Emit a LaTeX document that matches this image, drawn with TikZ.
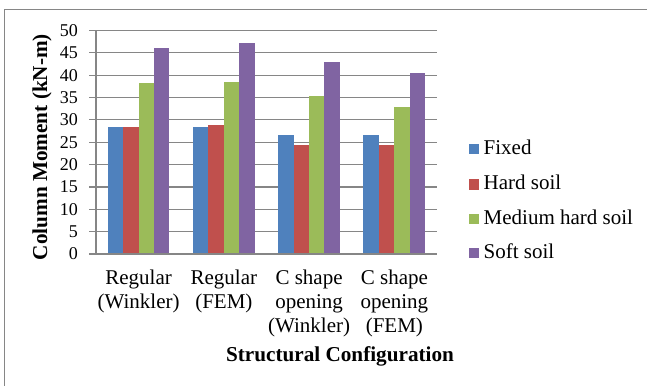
\documentclass[tikz,border=0pt]{standalone}
\usepackage{fontspec}
\setmainfont{Liberation Serif}
\definecolor{cFixed}{HTML}{4F81BD}
\definecolor{cHard}{HTML}{C0504D}
\definecolor{cMed}{HTML}{9BBB59}
\definecolor{cSoft}{HTML}{8064A2}
\definecolor{gridc}{HTML}{868686}
\tikzset{
  gridline/.style={draw=gridc, line width=1.2pt},
  frameline/.style={draw=gridc, line width=1.4pt},
  ticklab/.style={anchor=east, inner sep=0pt, font=\fontsize{18}{20}\selectfont},
  catlab/.style={anchor=north, inner sep=0pt, align=center, font=\fontsize{21}{24}\selectfont},
  leglab/.style={anchor=base west, inner sep=0pt, font=\fontsize{21}{24}\selectfont},
  axtitle/.style={inner sep=0pt, font=\fontsize{21.2}{24}\selectfont\bfseries},
  legsq/.style={minimum size=10.5pt, inner sep=0pt, anchor=south west},
}
\begin{document}
\begin{tikzpicture}[x=1pt, y=-1pt]
\useasboundingbox (0,0) rectangle (647,385);
\fill[white] (0,0) rectangle (647,385);
% outer chart border (cropped)
\draw[frameline] (4.5,390) -- (4.5,9.5) -- (650,9.5);
% gridlines and ticks
\foreach \v in {0,5,...,50}{
  \pgfmathsetmacro{\yy}{254-\v*4.472}
  \draw[gridline] (89,\yy) -- (437,\yy);
  \node[ticklab] (t\v) at (78,\yy) {\v};
}
\draw[gridline] (96,30.4) -- (96,254);
% bars
\def\bw{15.4}
\foreach \g/\a/\b/\c/\d in {0/28.5/28.5/38.2/46.1, 1/28.5/28.8/38.4/47.2, 2/26.5/24.4/35.3/42.9, 3/26.5/24.4/32.8/40.4}{
  \pgfmathsetmacro{\xs}{96+\g*85.25+11.7}
  \fill[cFixed] (\xs,254) rectangle ({\xs+\bw},{254-\a*4.472});
  \fill[cHard] ({\xs+\bw},254) rectangle ({\xs+2*\bw},{254-\b*4.472});
  \fill[cMed] ({\xs+2*\bw},254) rectangle ({\xs+3*\bw},{254-\c*4.472});
  \fill[cSoft] ({\xs+3*\bw},254) rectangle ({\xs+4*\bw},{254-\d*4.472});
}
\draw[gridline] (96,254) -- (437,254);
% category labels
\node[catlab] (c1) at (138.6,270) {Regular\\(Winkler)};
\node[catlab] (c2) at (223.9,270) {Regular\\(FEM)};
\node[catlab] (c3) at (309.1,270) {C shape\\opening\\(Winkler)};
\node[catlab] (c4) at (394.4,270) {C shape\\opening\\(FEM)};
% axis titles
\node[axtitle, anchor=base] (xt) at (340,361.7) {Structural Configuration};
\node[axtitle, rotate=90] (yt) at (42,147) {Column Moment (kN-m)};
% legend
\foreach \n/\c/\t/\yb in {l1/cFixed/Fixed/154.3, l2/cHard/Hard soil/189.8, l3/cMed/Medium hard soil/224.3, l4/cSoft/Soft soil/258.6}{
  \node[legsq, fill=\c] (\n s) at (468.5,\yb) {};
  \node[leglab] (\n) at (483.5,\yb) {\t};
}
\end{tikzpicture}
\end{document}
